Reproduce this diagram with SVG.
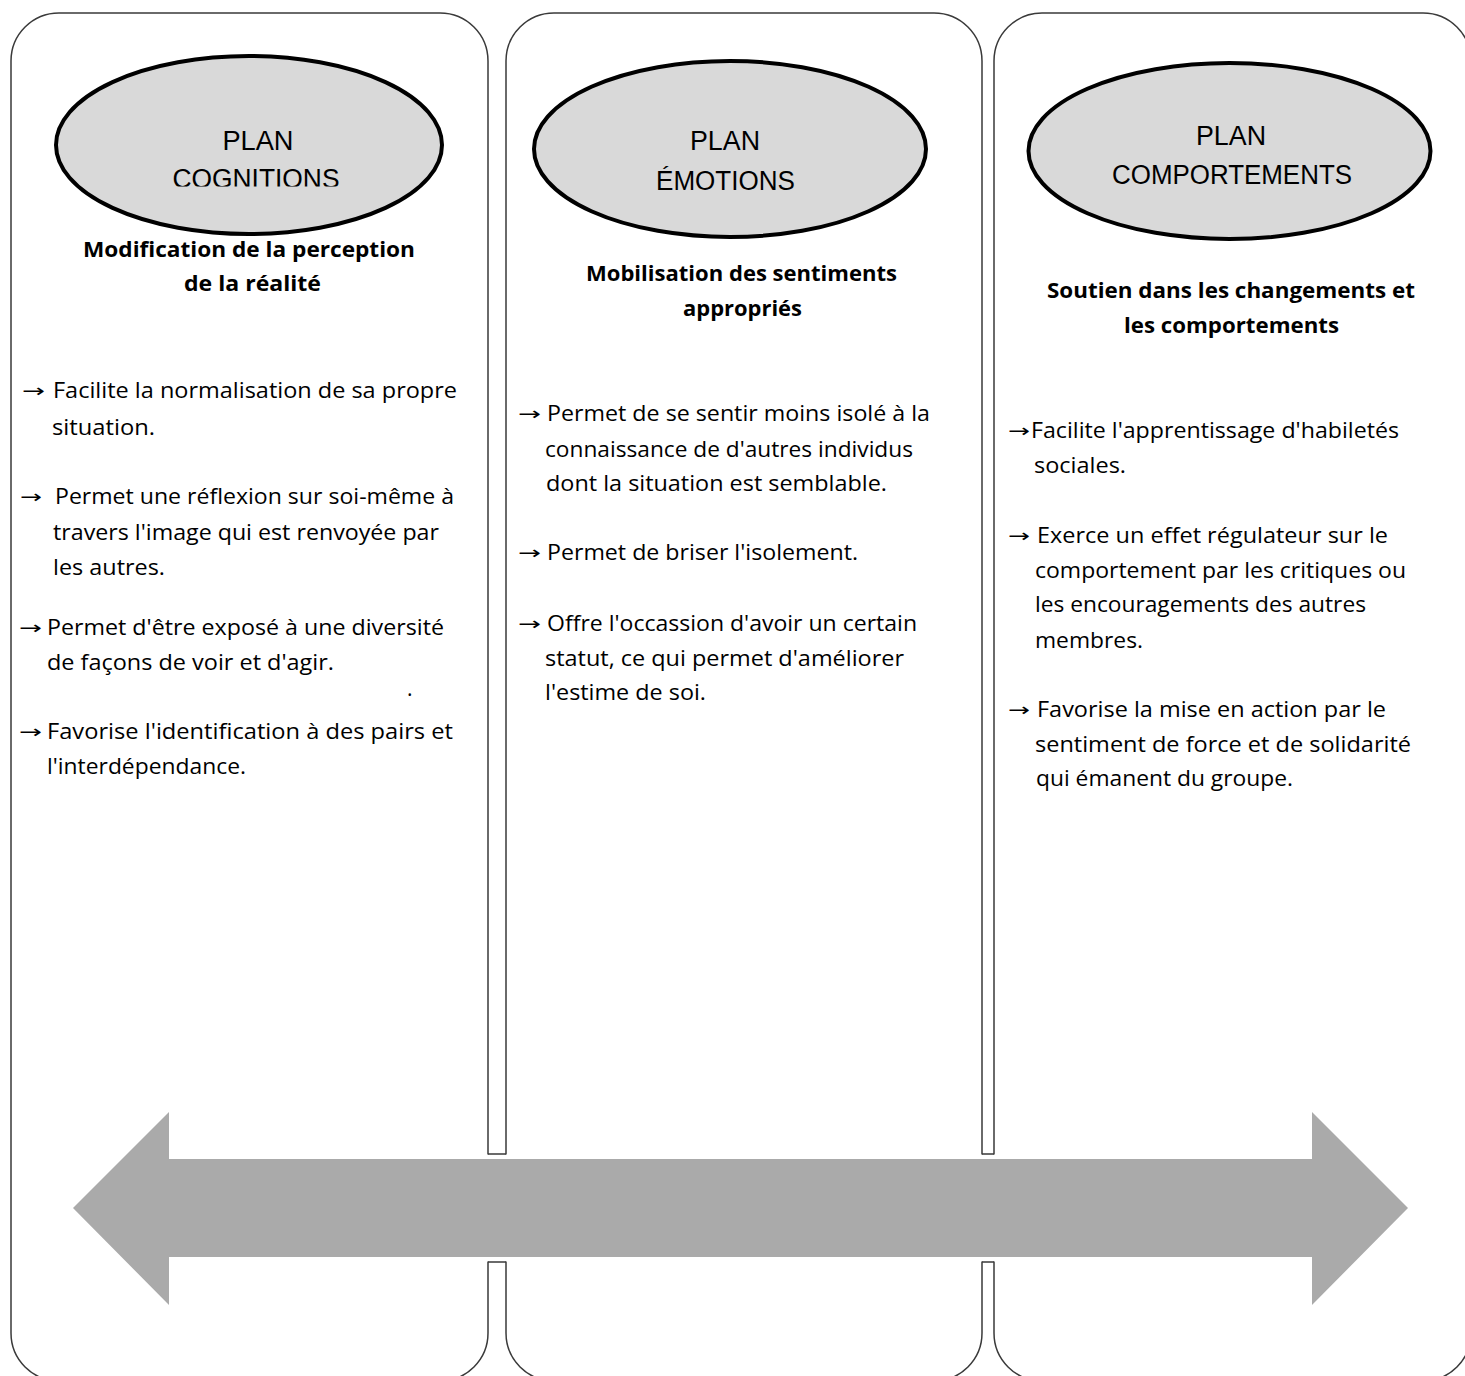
<svg xmlns="http://www.w3.org/2000/svg" width="1465" height="1376" viewBox="0 0 1465 1376">
  <style>
    .panel { fill: #ffffff; stroke: #3a3a3a; stroke-width: 1.5; }
    .oval { fill: #d9d9d9; stroke: #000000; stroke-width: 4; }
    .title { font-family: "Liberation Sans", "Open Sans", sans-serif; font-size: 27px; fill: #000; text-anchor: middle; }
    .head { font-family: "Open Sans", "Liberation Sans", sans-serif; font-weight: bold; font-size: 21px; fill: #000; text-anchor: middle; }
    .body { font-family: "Open Sans", "Liberation Sans", sans-serif; font-size: 21px; fill: #000; }
    .arr { font-family: "DejaVu Sans", sans-serif; font-size: 18px; fill: #000; }
    .gapcut { fill: #ffffff; stroke: none; }
    .gapline { stroke: #3a3a3a; stroke-width: 1.5; fill: none; }
    .bigarrow { fill: #aaaaaa; }
  </style>
  <defs>
    <clipPath id="clip-cog">
      <rect x="60" y="60" width="380" height="126.5"/>
    </clipPath>
  </defs>

  <rect x="0" y="0" width="1465" height="1376" fill="#ffffff"/>

  <!-- Column panels -->
  <g id="panel-cognitions">
    <path class="panel" d="M11,61 A48,48 0 0 1 59,13 H440 A48,48 0 0 1 488,61 V1333 A48,48 0 0 1 440,1381 H59 A48,48 0 0 1 11,1333 Z"/>
  </g>
  <g id="panel-emotions">
    <path class="panel" d="M506,61 A48,48 0 0 1 554,13 H934 A48,48 0 0 1 982,61 V1333 A48,48 0 0 1 934,1381 H554 A48,48 0 0 1 506,1333 Z"/>
  </g>
  <g id="panel-comportements">
    <path class="panel" d="M994,61 A48,48 0 0 1 1042,13 H1423 A48,48 0 0 1 1471,61 V1333 A48,48 0 0 1 1423,1381 H1042 A48,48 0 0 1 994,1333 Z"/>
  </g>

  <!-- Openings in the panel sides where the band passes -->
  <g id="panel-openings">
    <rect class="gapcut" x="486" y="1154.5" width="22" height="107"/>
    <rect class="gapcut" x="980" y="1154.5" width="16" height="107"/>
    <path class="gapline" d="M488,1154 H506 M488,1262 H506 M982,1154 H994 M982,1262 H994"/>
  </g>

  <!-- Ovals -->
  <g id="node-cognitions">
    <ellipse class="oval" cx="249" cy="145" rx="193" ry="89"/>
    <text class="title" x="258" y="150" textLength="71" lengthAdjust="spacingAndGlyphs">PLAN</text>
    <text class="title" x="256" y="188" textLength="167" lengthAdjust="spacingAndGlyphs" clip-path="url(#clip-cog)">COGNITIONS</text>
  </g>
  <g id="node-emotions">
    <ellipse class="oval" cx="730" cy="149" rx="196" ry="88"/>
    <text class="title" x="725" y="150" textLength="70" lengthAdjust="spacingAndGlyphs">PLAN</text>
    <text class="title" x="725.5" y="190" textLength="139" lengthAdjust="spacingAndGlyphs">ÉMOTIONS</text>
  </g>
  <g id="node-comportements">
    <ellipse class="oval" cx="1229.5" cy="151" rx="201" ry="88"/>
    <text class="title" x="1231" y="145" textLength="70" lengthAdjust="spacingAndGlyphs">PLAN</text>
    <text class="title" x="1232" y="184" textLength="240" lengthAdjust="spacingAndGlyphs">COMPORTEMENTS</text>
  </g>

  <!-- Column 1 texts -->
  <g id="text-cognitions">
    <text class="head" x="249" y="257" textLength="332" lengthAdjust="spacingAndGlyphs">Modification de la perception</text>
    <text class="head" x="252.5" y="291" textLength="137" lengthAdjust="spacingAndGlyphs">de la réalité</text>

    <text class="arr" x="22" y="397" textLength="23" lengthAdjust="spacingAndGlyphs">→</text>
    <text class="body" x="53" y="398" textLength="404" lengthAdjust="spacingAndGlyphs">Facilite la normalisation de sa propre</text>
    <text class="body" x="52" y="435" textLength="103" lengthAdjust="spacingAndGlyphs">situation.</text>

    <text class="arr" x="20" y="503" textLength="22" lengthAdjust="spacingAndGlyphs">→</text>
    <text class="body" x="55" y="504" textLength="399" lengthAdjust="spacingAndGlyphs">Permet une réflexion sur soi-même à</text>
    <text class="body" x="53" y="540" textLength="386" lengthAdjust="spacingAndGlyphs">travers l'image qui est renvoyée par</text>
    <text class="body" x="53" y="575" textLength="112" lengthAdjust="spacingAndGlyphs">les autres.</text>

    <text class="arr" x="19" y="634" textLength="23" lengthAdjust="spacingAndGlyphs">→</text>
    <text class="body" x="47" y="635" textLength="397" lengthAdjust="spacingAndGlyphs">Permet d'être exposé à une diversité</text>
    <text class="body" x="47" y="670" textLength="287" lengthAdjust="spacingAndGlyphs">de façons de voir et d'agir.</text>
    <text class="body" x="407" y="696">.</text>

    <text class="arr" x="19" y="738" textLength="23" lengthAdjust="spacingAndGlyphs">→</text>
    <text class="body" x="47" y="739" textLength="406" lengthAdjust="spacingAndGlyphs">Favorise l'identification à des pairs et</text>
    <text class="body" x="47" y="774" textLength="199" lengthAdjust="spacingAndGlyphs">l'interdépendance.</text>
  </g>

  <!-- Column 2 texts -->
  <g id="text-emotions">
    <text class="head" x="741.5" y="281" textLength="311" lengthAdjust="spacingAndGlyphs">Mobilisation des sentiments</text>
    <text class="head" x="742.5" y="316" textLength="119" lengthAdjust="spacingAndGlyphs">appropriés</text>

    <text class="arr" x="518" y="420" textLength="23" lengthAdjust="spacingAndGlyphs">→</text>
    <text class="body" x="547" y="421" textLength="383" lengthAdjust="spacingAndGlyphs">Permet de se sentir moins isolé à la</text>
    <text class="body" x="545" y="457" textLength="368" lengthAdjust="spacingAndGlyphs">connaissance de d'autres individus</text>
    <text class="body" x="546" y="491" textLength="341" lengthAdjust="spacingAndGlyphs">dont la situation est semblable.</text>

    <text class="arr" x="518" y="559" textLength="23" lengthAdjust="spacingAndGlyphs">→</text>
    <text class="body" x="547" y="560" textLength="311" lengthAdjust="spacingAndGlyphs">Permet de briser l'isolement.</text>

    <text class="arr" x="518" y="630" textLength="23" lengthAdjust="spacingAndGlyphs">→</text>
    <text class="body" x="547" y="631" textLength="370" lengthAdjust="spacingAndGlyphs">Offre l'occassion d'avoir un certain</text>
    <text class="body" x="545" y="666" textLength="359" lengthAdjust="spacingAndGlyphs">statut, ce qui permet d'améliorer</text>
    <text class="body" x="545" y="700" textLength="161" lengthAdjust="spacingAndGlyphs">l'estime de soi.</text>
  </g>

  <!-- Column 3 texts -->
  <g id="text-comportements">
    <text class="head" x="1231" y="298" textLength="368" lengthAdjust="spacingAndGlyphs">Soutien dans les changements et</text>
    <text class="head" x="1231.5" y="333" textLength="215" lengthAdjust="spacingAndGlyphs">les comportements</text>

    <text class="arr" x="1008" y="437" textLength="22" lengthAdjust="spacingAndGlyphs">→</text>
    <text class="body" x="1031" y="438" textLength="368" lengthAdjust="spacingAndGlyphs">Facilite l'apprentissage d'habiletés</text>
    <text class="body" x="1034" y="473" textLength="92" lengthAdjust="spacingAndGlyphs">sociales.</text>

    <text class="arr" x="1008" y="542" textLength="22" lengthAdjust="spacingAndGlyphs">→</text>
    <text class="body" x="1037" y="543" textLength="351" lengthAdjust="spacingAndGlyphs">Exerce un effet régulateur sur le</text>
    <text class="body" x="1035" y="578" textLength="371" lengthAdjust="spacingAndGlyphs">comportement par les critiques ou</text>
    <text class="body" x="1035" y="612" textLength="331" lengthAdjust="spacingAndGlyphs">les encouragements des autres</text>
    <text class="body" x="1035" y="648" textLength="108" lengthAdjust="spacingAndGlyphs">membres.</text>

    <text class="arr" x="1008" y="716" textLength="22" lengthAdjust="spacingAndGlyphs">→</text>
    <text class="body" x="1037" y="717" textLength="349" lengthAdjust="spacingAndGlyphs">Favorise la mise en action par le</text>
    <text class="body" x="1035" y="752" textLength="376" lengthAdjust="spacingAndGlyphs">sentiment de force et de solidarité</text>
    <text class="body" x="1036" y="786" textLength="257" lengthAdjust="spacingAndGlyphs">qui émanent du groupe.</text>
  </g>

  <!-- Double-headed band linking the three planes -->
  <g id="connectors">
    <path class="bigarrow" d="M73,1208 L169,1112 V1159 H1312 V1112 L1408,1208 L1312,1305 V1257 H169 V1305 Z"/>
  </g>
</svg>
